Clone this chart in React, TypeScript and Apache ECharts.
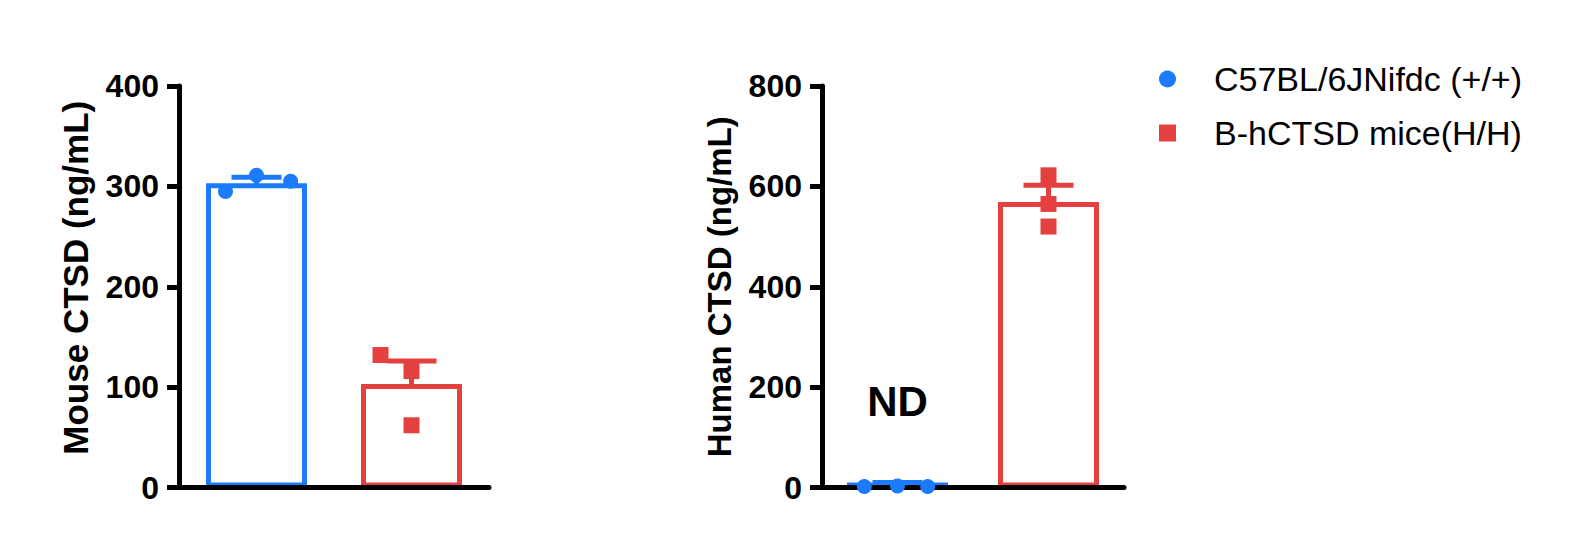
import React, { useEffect, useRef } from 'react';
import * as echarts from 'echarts';

// ---- data ----
const groups = ['C57BL/6JNifdc (+/+)', 'B-hCTSD mice(H/H)'];
const groupColors = ['#1B7BFB', '#E3403F'];
const groupSymbols = ['circle', 'rect'];

const mouseMeans = [303, 103];
const mouseSems = [6, 23];
// [x jitter within its category, value]
const mouseWtPoints = [[-0.2, 295], [0, 311], [0.22, 305]];
const mouseHPoints = [[-0.2, 132], [0, 116], [0, 62]];

const humanMeans = [10, 569];
const humanSems = [0, 33];
const humanWtPoints = [[-0.22, 2], [0, 3], [0.2, 2]];
const humanHPoints = [[0, 622], [0, 565], [0, 520]];

const mouseTicks = [0, 100, 200, 300, 400];
const humanTicks = [0, 200, 400, 600, 800];

const mouseTitle = 'Mouse CTSD (ng/mL)';
const humanTitle = 'Human CTSD (ng/mL)';
const ndText = 'ND';

const FONT = '"Liberation Sans", Arial, sans-serif';

function yAxisFor(gridIndex: number, ticks: number[], name: string, titleSize: number, titleShift: number) {
  return {
    gridIndex,
    type: 'value',
    min: ticks[0],
    max: ticks[ticks.length - 1],
    interval: ticks[1] - ticks[0],
    axisLine: { show: true, onZero: false, lineStyle: { color: '#000', width: 5 } },
    axisTick: { show: true, length: 12, lineStyle: { color: '#000', width: 5 } },
    axisLabel: { margin: 20, fontSize: 32, fontWeight: 'bold', color: '#000', fontFamily: FONT },
    splitLine: { show: false },
    name,
    nameLocation: 'middle',
    nameGap: 86,
    nameTextStyle: {
      fontSize: titleSize,
      fontWeight: 'bold',
      color: '#000',
      fontFamily: FONT,
      padding: [0, 0, 0, titleShift],
    },
    z: 10,
  };
}

function catAxisFor(gridIndex: number) {
  return {
    gridIndex,
    type: 'category',
    data: groups,
    axisLine: { show: true, onZero: false, lineStyle: { color: '#000', width: 5 } },
    axisTick: { show: false },
    axisLabel: { show: false },
    splitLine: { show: false },
    z: 10,
  };
}

function jitterAxisFor(gridIndex: number) {
  return { gridIndex, type: 'value', min: -0.5, max: 1.5, show: false };
}

function errorSeries(xAxisIndex: number, yAxisIndex: number, means: number[], sems: number[]) {
  return {
    type: 'custom',
    xAxisIndex,
    yAxisIndex,
    z: 11,
    clip: false,
    silent: true,
    encode: { x: 0, y: 1 },
    data: means.map((m, i) => ({ value: [i, m, sems[i]], itemStyle: { color: groupColors[i] } })),
    renderItem: (params: any, api: any) => {
      const idx = api.value(0);
      const m = api.value(1);
      const s = api.value(2);
      const p0 = api.coord([idx, m]);
      const p1 = api.coord([idx, m + s]);
      const color = api.visual('color');
      return {
        type: 'group',
        children: [
          { type: 'line', shape: { x1: p0[0], y1: p0[1] + 2, x2: p1[0], y2: p1[1] }, style: { stroke: color, lineWidth: 5 } },
          { type: 'line', shape: { x1: p1[0] - 25, y1: p1[1], x2: p1[0] + 25, y2: p1[1] }, style: { stroke: color, lineWidth: 5 } },
        ],
      };
    },
  };
}

function barSeries(xAxisIndex: number, yAxisIndex: number, means: number[], ndIndex: number | null) {
  return {
    type: 'bar',
    xAxisIndex,
    yAxisIndex,
    barWidth: 101,
    z: 2,
    silent: true,
    data: means.map((m, i) => ({
      value: m,
      itemStyle: { color: '#fff', borderColor: groupColors[i], borderWidth: 5 },
      label:
        ndIndex === i
          ? {
              show: true,
              position: 'top',
              distance: 60,
              formatter: ndText,
              fontSize: 42,
              fontWeight: 'bold',
              color: '#000',
              fontFamily: FONT,
            }
          : { show: false },
    })),
  };
}

function pointSeries(xAxisIndex: number, yAxisIndex: number, g: number, pts: number[][]) {
  return {
    type: 'scatter',
    name: groups[g],
    xAxisIndex,
    yAxisIndex,
    symbol: groupSymbols[g],
    symbolSize: g === 0 ? 15 : 16,
    itemStyle: { color: groupColors[g], opacity: 1 },
    z: 12,
    clip: false,
    silent: true,
    // category index g plus the jitter
    data: pts.map(([dx, v]) => [g + dx, v]),
  };
}

export default function App() {
  const ref = useRef<HTMLDivElement>(null);
  useEffect(() => {
    if (!ref.current) return;
    const chart = echarts.init(ref.current, undefined, { renderer: 'svg' });
    const option: any = {
      animation: false,
      backgroundColor: '#fff',
      grid: [
        { left: 179, top: 86, width: 310, height: 401.5, containLabel: false },
        { left: 822, top: 86, width: 302, height: 401.5, containLabel: false },
      ],
      xAxis: [catAxisFor(0), jitterAxisFor(0), catAxisFor(1), jitterAxisFor(1)],
      yAxis: [
        yAxisFor(0, mouseTicks, mouseTitle, 35, 18),
        yAxisFor(1, humanTicks, humanTitle, 33, 0),
      ],
      legend: {
        orient: 'vertical',
        left: 1159,
        top: 62,
        padding: 0,
        itemGap: 20,
        itemWidth: 17,
        itemHeight: 17,
        selectedMode: false,
        data: [
          { name: groups[0], icon: 'circle' },
          { name: groups[1], icon: 'rect' },
        ],
        textStyle: { fontSize: 34, color: '#000', fontFamily: FONT, padding: [0, 0, 0, 33] },
      },
      series: [
        barSeries(0, 0, mouseMeans, null),
        errorSeries(0, 0, mouseMeans, mouseSems),
        pointSeries(1, 0, 0, mouseWtPoints),
        pointSeries(1, 0, 1, mouseHPoints),
        barSeries(2, 1, humanMeans, 0),
        errorSeries(2, 1, humanMeans, humanSems),
        pointSeries(3, 1, 0, humanWtPoints),
        pointSeries(3, 1, 1, humanHPoints),
      ],
    };
    chart.setOption(option);
    return () => chart.dispose();
  }, []);
  return (
    <div
      ref={ref}
      style={{ position: 'absolute', left: 0, top: 0, width: 1584, height: 547, background: '#fff' }}
    />
  );
}
